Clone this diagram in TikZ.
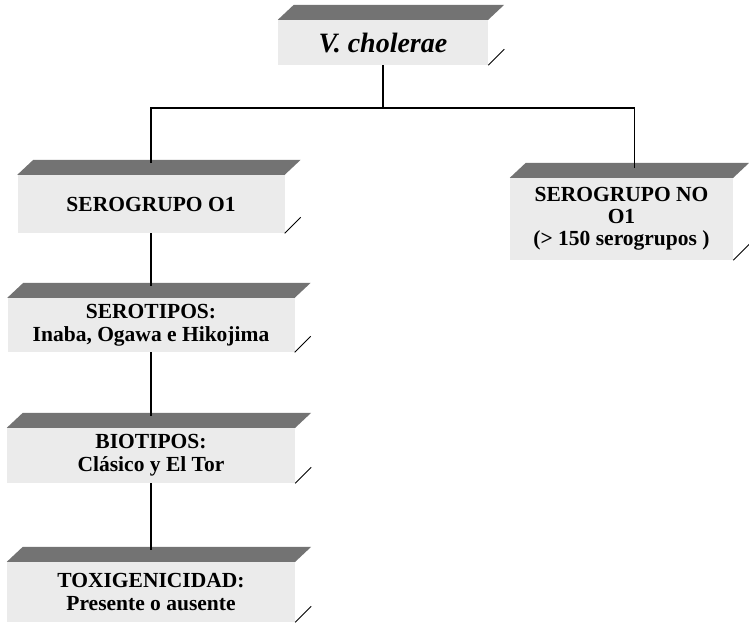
\documentclass[tikz,border=0pt]{standalone}
\usepackage{fontspec}
\setmainfont{Liberation Serif}
\usetikzlibrary{calc}

\tikzset{
  caja/.style={fill=black!8, inner sep=0pt, align=center, font=\fontsize{21.5}{23}\selectfont\bfseries},
  techo/.style={fill=black!55},
  arista/.style={draw=black, line width=0.9pt},
  linea/.style={draw=black, line width=1.8pt},
}

\begin{document}
\begin{tikzpicture}[x=1pt, y=-1pt]
    \useasboundingbox (0,0) rectangle (749,622);

    % especie
    \node(vc) [caja, minimum width=210pt, minimum height=45pt,
               font=\fontsize{28}{28}\selectfont\bfseries\itshape] at (383,42.5) {V. cholerae};

    % serogrupos
    \node(sg1)  [caja, minimum width=267pt, minimum height=58pt] at (151,204) {SEROGRUPO O1};
    \node(sgno) [caja, minimum width=223pt, minimum height=82pt,
                 font=\fontsize{21.5}{22}\selectfont\bfseries] at (621.5,219)
                 {SEROGRUPO NO\\O1\\(> 150 serogrupos )};

    % columna izquierda
    \node(stp) [caja, minimum width=287pt, minimum height=54pt] at (151,325)
               {SEROTIPOS:\\Inaba, Ogawa e Hikojima};
    \node(btp) [caja, minimum width=288pt, minimum height=55pt] at (151,455.5)
               {BIOTIPOS:\\Clásico y El Tor};
    \node(tox) [caja, minimum width=288pt, minimum height=60pt] at (151,592)
               {TOXIGENICIDAD:\\Presente o ausente};

    %%%%% techos y aristas %%%%%
    \foreach \n in {vc,sg1,sgno,stp,btp,tox}{
      \fill[techo] (\n.north west) -- (\n.north east) -- ++(16,-15)
                   -- ([shift={(16,-15)}]\n.north west) -- cycle;
      \draw[arista] (\n.south east) -- ++(16,-16);
    }

    %%%%% conectores %%%%%
    \coordinate (rama) at ($(vc.south)+(0,43)$);
    \draw[linea] (vc.south) -- (rama);
    \draw[linea] (rama) -| ([yshift=12pt]sg1.north);
    \draw[linea] (rama) -| ([xshift=13pt,yshift=10pt]sgno.north);

    \draw[linea] (sg1.south) -- ([yshift=12pt]stp.north);
    \draw[linea] (stp.south) -- ([yshift=12pt]btp.north);
    \draw[linea] (btp.south) -- ([yshift=12pt]tox.north);

\end{tikzpicture}
\end{document}
